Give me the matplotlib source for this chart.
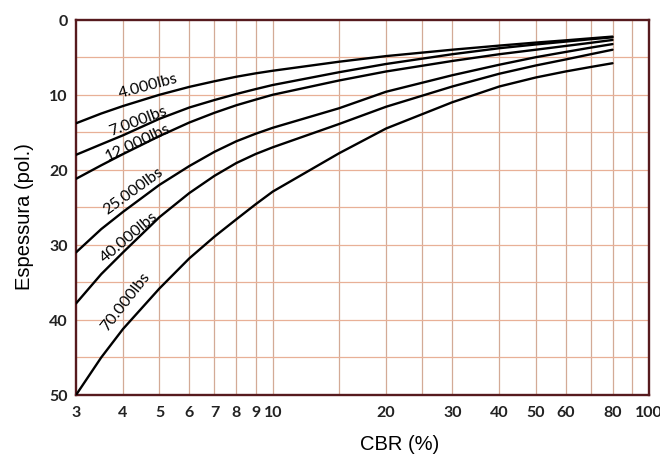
import matplotlib
matplotlib.use("Agg")
import matplotlib.pyplot as plt

# CBR values (%) where the curves were read
cbr = [3, 3.5, 4, 5, 6, 7, 8, 9, 10, 15, 20, 30, 40, 50, 60, 70, 80]

# thickness (pol.) per wheel load
t_4000 = [13.8, 12.5, 11.5, 10.0, 8.95, 8.2, 7.6, 7.15, 6.8, 5.6, 4.85, 4.0, 3.45, 3.05, 2.75, 2.48, 2.25]
t_7000 = [18.0, 16.6, 15.4, 13.2, 11.7, 10.7, 9.9, 9.25, 8.7, 7.0, 5.9, 4.6, 3.8, 3.3, 2.92, 2.6, 2.35]
t_12000 = [21.2, 19.4, 17.9, 15.5, 13.7, 12.4, 11.4, 10.65, 10.0, 8.1, 6.9, 5.5, 4.6, 4.0, 3.5, 3.08, 2.7]
t_25000 = [31.0, 27.9, 25.6, 22.0, 19.5, 17.6, 16.2, 15.2, 14.4, 11.8, 9.6, 7.4, 6.0, 5.0, 4.3, 3.72, 3.25]
t_40000 = [37.8, 33.9, 31.0, 26.3, 23.1, 20.8, 19.1, 17.9, 17.0, 13.9, 11.6, 8.9, 7.2, 6.1, 5.3, 4.6, 4.0]
t_70000 = [50.0, 45.0, 41.2, 35.8, 31.8, 28.9, 26.6, 24.6, 22.9, 17.8, 14.5, 11.0, 8.9, 7.7, 6.9, 6.3, 5.8]

series = [t_4000, t_7000, t_12000, t_25000, t_40000, t_70000]
load_labels = ['4.000lbs', '7.000lbs', '12.000lbs', '25.000lbs', '40.000lbs', '70.000lbs']

# where each curve label sits (CBR, thickness) and its angle
label_pos = [(4.66, 8.75), (4.38, 13.35), (4.38, 16.25), (4.27, 22.7), (4.16, 28.9), (4.06, 37.4)]
label_rot = [15, 21, 25, 36, 40, 52]

grid_x = [3, 4, 5, 6, 7, 8, 9, 10, 15, 20, 25, 30, 40, 50, 60, 70, 80, 90, 100]
x_labels = ['3', '4', '5', '6', '7', '8', '9', '10', '', '20', '', '30', '40', '50', '60', '', '80', '', '100']
grid_y = [0, 5, 10, 15, 20, 25, 30, 35, 40, 45, 50]
y_labels = ['0', '', '10', '', '20', '', '30', '', '40', '', '50']

frame_color = '#561a1e'

fig = plt.figure(figsize=(6.6, 4.56), dpi=100)
ax = fig.add_axes([0.1152, 0.1316, 0.8681, 0.8230])

ax.set_xscale('log')
ax.set_xlim(3, 100)
ax.set_ylim(50, 0)

ax.set_xticks(grid_x)
ax.set_xticklabels(x_labels)
ax.xaxis.set_minor_locator(matplotlib.ticker.NullLocator())
ax.set_yticks(grid_y)
ax.set_yticklabels(y_labels)

for xv in grid_x[1:-1]:
    ax.axvline(xv, color='#d3aa96', lw=0.9, zorder=1)
for yv in grid_y[1:-1]:
    ax.axhline(yv, color='#e8b097', lw=0.9, zorder=1)

for vals in series:
    ax.plot(cbr, vals, color='black', lw=1.7, zorder=3,
            solid_joinstyle='round', solid_capstyle='round')

for txt, (px, py), rot in zip(load_labels, label_pos, label_rot):
    ax.text(px, py, txt, rotation=rot, rotation_mode='anchor', ha='center', va='center',
            fontsize=11.5, family='Lato', color='black', zorder=4)

for sp in ax.spines.values():
    sp.set_color(frame_color)
    sp.set_linewidth(1.7)

ax.tick_params(axis='both', length=0, labelsize=11.5, colors='#222222')
ax.tick_params(axis='x', pad=7)
ax.tick_params(axis='y', pad=6)
for lab in ax.get_xticklabels() + ax.get_yticklabels():
    lab.set_family('Lato')
    lab.set_fontweight('bold')

ax.set_xlabel('CBR (%)', fontsize=14.5, family='Liberation Sans')
ax.xaxis.set_label_coords(0.565, -0.105)
ax.set_ylabel('Espessura (pol.)', fontsize=14.5, family='Liberation Sans')
ax.yaxis.set_label_coords(-0.073, 0.477)

fig.savefig('out.png', dpi=100)
